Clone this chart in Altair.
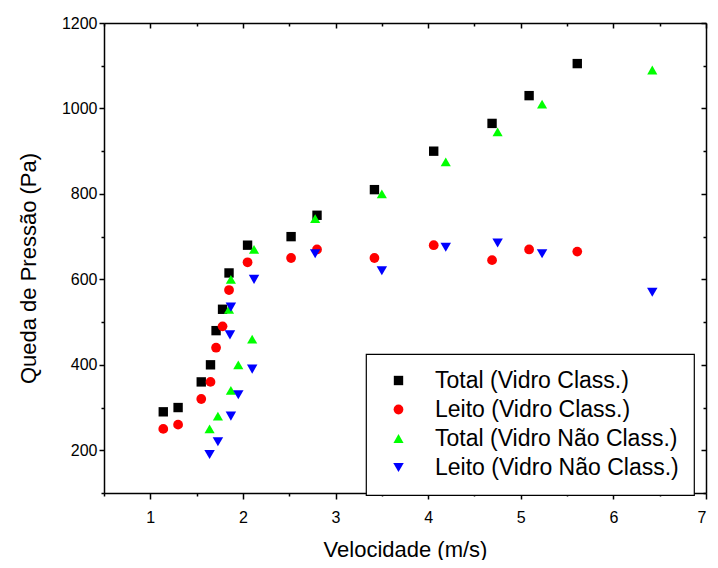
import altair as alt
import pandas as pd

series_names = [
    "Total (Vidro Class.)",
    "Leito (Vidro Class.)",
    "Total (Vidro Não Class.)",
    "Leito (Vidro Não Class.)",
]
series_colors = ["#000000", "#ff0000", "#00ff00", "#0000ff"]
series_shapes = ["square", "circle", "triangle-up", "triangle-down"]
series_sizes = [88, 110, 170, 170]

class_v = [1.14, 1.30, 1.55, 1.65, 1.71, 1.78, 1.85, 2.05, 2.52, 2.80, 3.42, 4.06, 4.69, 5.09, 5.61]
total_class_p = [290, 300, 360, 400, 480, 530, 615, 680, 700, 750, 810, 900, 965, 1030, 1105]
leito_class_p = [250, 260, 320, 360, 440, 490, 575, 640, 650, 670, 650, 680, 645, 670, 665]

naoclass_total_v = [1.64, 1.73, 1.87, 1.95, 2.10, 1.85, 1.87, 2.12, 2.78, 3.50, 4.19, 4.75, 5.23, 6.42]
total_naoclass_p = [250, 280, 340, 400, 460, 530, 600, 670, 742, 800, 875, 945, 1010, 1090]
naoclass_leito_v = [1.64, 1.73, 1.87, 1.95, 2.10, 1.86, 1.87, 2.12, 2.78, 3.50, 4.19, 4.75, 5.23, 6.42]
leito_naoclass_p = [190, 220, 280, 330, 390, 470, 535, 600, 660, 620, 675, 685, 660, 570]

x_major = [1, 2, 3, 4, 5, 6, 7]
x_minor = [0.5, 1.5, 2.5, 3.5, 4.5, 5.5, 6.5]
y_major = [200, 400, 600, 800, 1000, 1200]
y_minor = [100, 300, 500, 700, 900, 1100]

rows = []
for name, vs, ps in [
    (series_names[0], class_v, total_class_p),
    (series_names[1], class_v, leito_class_p),
    (series_names[2], naoclass_total_v, total_naoclass_p),
    (series_names[3], naoclass_leito_v, leito_naoclass_p),
]:
    for v, p in zip(vs, ps):
        rows.append({"v": v, "p": p, "serie": name, "ord": series_names.index(name)})
df = pd.DataFrame(rows)

W, H = 602, 470
FONT = "Liberation Sans"
NBSP = "\u00a0"


def xs():
    return alt.Scale(domain=[0.5, 7], nice=False, zero=False)


def ys():
    return alt.Scale(domain=[100, 1200], nice=False, zero=False)


common_axis = dict(domainColor="black", tickColor="black", tickWidth=1.5, domainWidth=1.5, grid=False)

# data layer with bottom / left major axes
data_layer = alt.Chart(df).mark_point(filled=True, opacity=1, strokeWidth=0).encode(
    x=alt.X("v:Q", scale=xs(), axis=alt.Axis(
        orient="bottom", values=x_major, format="d", title="Velocidade (m/s)",
        tickSize=6, labelPadding=10, labelFontSize=16, labelFont=FONT, labelColor="black",
        titleFontSize=22, titleFont=FONT, titleFontWeight="normal", titleColor="black",
        titleX=W / 2, titleY=56, titleBaseline="middle", **common_axis)),
    y=alt.Y("p:Q", scale=ys(), axis=alt.Axis(
        orient="left", values=y_major, format="d", title="Queda de Pressão (Pa)",
        tickSize=5, labelPadding=2, labelFontSize=16, labelFont=FONT, labelColor="black",
        titleFontSize=22, titleFont=FONT, titleFontWeight="normal", titleColor="black",
        titleX=-76, titleY=245, titleBaseline="middle", titleAngle=-90, **common_axis)),
    color=alt.Color("serie:N", scale=alt.Scale(domain=series_names, range=series_colors), legend=alt.Legend(
        title=None, orient="none", legendX=262, legendY=331, strokeColor="black",
        fillColor="white", padding=15, rowPadding=5, symbolOffset=6, labelOffset=25,
        labelFontSize=23, labelFont=FONT, labelColor="black", labelLimit=500,
        symbolOpacity=1, symbolStrokeWidth=0, labelExpr="datum.label + '" + NBSP * 3 + "'")),
    shape=alt.Shape("serie:N", scale=alt.Scale(domain=series_names, range=series_shapes)),
    size=alt.Size("serie:N", scale=alt.Scale(domain=series_names, range=series_sizes)),
    order=alt.Order("ord:Q"),
)

# minor ticks bottom / left
minor_layer = alt.Chart(df).mark_point(opacity=0).encode(
    x=alt.X("v:Q", scale=xs(), axis=alt.Axis(orient="bottom", values=x_minor, labels=False, domain=False,
                                             tickSize=3, title=None, tickColor="black", tickWidth=1.5, grid=False)),
    y=alt.Y("p:Q", scale=ys(), axis=alt.Axis(orient="left", values=y_minor, labels=False, domain=False,
                                             tickSize=3, title=None, tickColor="black", tickWidth=1.5, grid=False)),
)

# top / right major ticks, pointing inward
mirror_major = alt.Chart(df).mark_point(opacity=0).encode(
    x=alt.X("v:Q", scale=xs(), axis=alt.Axis(orient="bottom", offset=-H, values=x_major, labels=False,
                                             tickSize=5, title=None, **common_axis)),
    y=alt.Y("p:Q", scale=ys(), axis=alt.Axis(orient="left", offset=-W, values=y_major, labels=False,
                                             tickSize=5, title=None, **common_axis)),
)

mirror_minor = alt.Chart(df).mark_point(opacity=0).encode(
    x=alt.X("v:Q", scale=xs(), axis=alt.Axis(orient="bottom", offset=-H, values=x_minor, labels=False, domain=False,
                                             tickSize=3, title=None, tickColor="black", tickWidth=1.5, grid=False)),
    y=alt.Y("p:Q", scale=ys(), axis=alt.Axis(orient="left", offset=-W, values=y_minor, labels=False, domain=False,
                                             tickSize=3, title=None, tickColor="black", tickWidth=1.5, grid=False)),
)

chart = alt.layer(data_layer, minor_layer, mirror_major, mirror_minor).resolve_scale(
    x="independent", y="independent"
).properties(
    width=W, height=H,
    autosize=alt.AutoSizeParams(type="none"),
    padding={"left": 96, "top": 15, "right": 4, "bottom": 67},
    background="white",
).configure_view(stroke=None).configure_legend(strokeWidth=1.2)

chart.save("out.html", embed_options={"renderer": "svg", "actions": False})
